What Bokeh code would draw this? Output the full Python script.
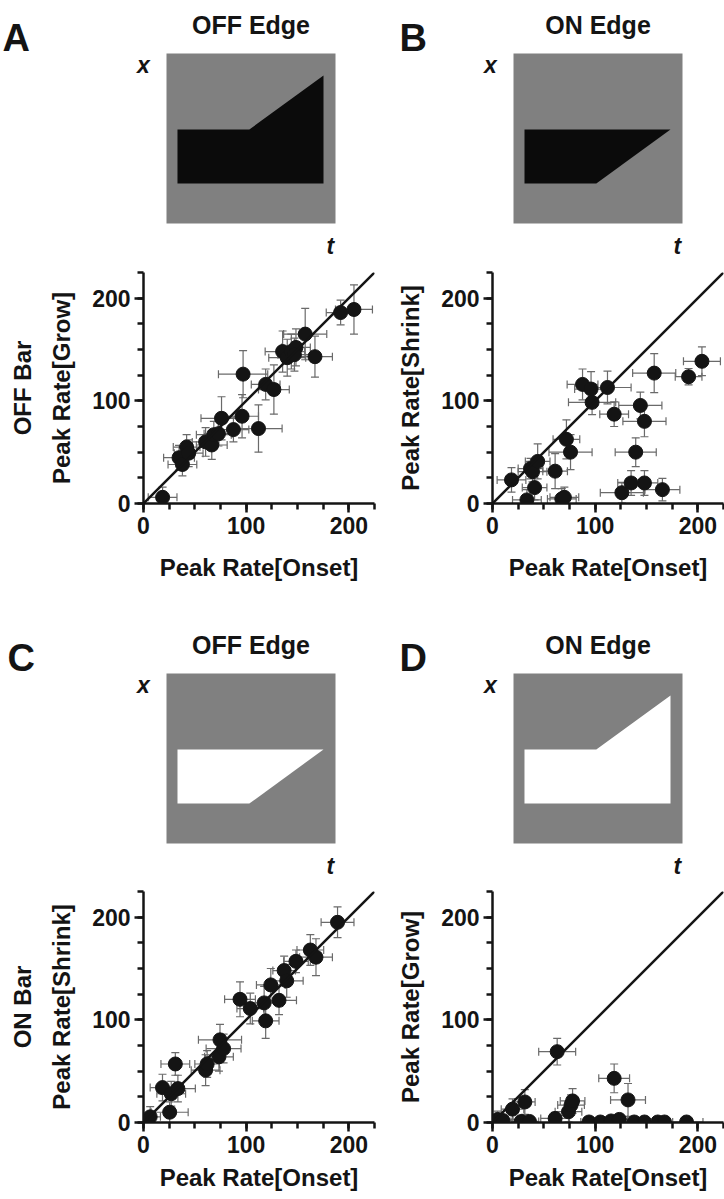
from bokeh.plotting import figure
from bokeh.models import Range1d, SingleIntervalTicker, ColumnDataSource, Whisker, TeeHead, Slope
from bokeh.layouts import column, row
from bokeh.embed import file_html
from bokeh.resources import INLINE
from bokeh.core.properties import value

# ---------------- data ----------------
# Panel A: OFF Bar, Peak Rate[Onset] vs Peak Rate[Grow]
a_x  = [18.6, 34.6, 37.9, 42, 44, 60.5, 66.5, 68.5, 73, 76, 87.6, 96, 97, 112, 119, 127, 135.5, 140, 144, 148.5, 147, 157.5, 167, 192, 205]
a_y  = [6, 44.6, 38, 55, 49, 60, 57, 67, 68, 83, 72, 85, 126, 73, 116, 111, 148, 142, 148, 152, 145, 165, 143, 186, 189]
a_ex = [14, 15, 14, 13, 14, 13, 15, 17, 14, 20, 15, 16, 24, 23, 14, 15, 17, 18, 13, 14, 16, 21, 17, 14, 18]
a_ey = [10, 12, 11, 12, 13, 14, 14, 13, 12, 21, 12, 21, 23, 23, 15, 24, 20, 18, 17, 18, 16, 25, 20, 12, 24]

# Panel B: OFF Bar, Peak Rate[Onset] vs Peak Rate[Shrink]
b_x  = [18.5, 33.5, 37, 39, 41, 44, 61, 67.5, 70, 72, 76, 87.7, 96, 97, 112, 118.5, 126, 135, 139.5, 144, 148, 148, 157.5, 165.5, 191, 204]
b_y  = [23, 3.5, 34, 31, 15.5, 41, 31.5, 4.5, 6, 62.5, 50, 116, 111.5, 98.5, 113, 87, 10.5, 20, 50, 95.5, 20, 80, 127, 13.5, 123.5, 138.5]
b_ex = [14, 14, 12, 14, 12, 12, 12, 14, 14, 13, 21, 15, 16, 23, 23, 14, 21, 13, 20, 21, 13, 21, 21, 17, 13, 18]
b_ey = [12, 10, 10, 10, 12, 17, 17, 10, 10, 19, 17, 15, 17, 12, 16, 12, 10, 12, 14, 13, 12, 15, 19, 11, 8, 14]

# Panel C: ON Bar, Peak Rate[Onset] vs Peak Rate[Shrink]
c_x  = [6.5, 18.5, 25.5, 27, 33.5, 31, 60.5, 62, 73.5, 74.5, 78, 94, 104, 117.5, 119, 124, 132, 137, 139.5, 148.5, 162.5, 168, 189]
c_y  = [5.5, 34, 10, 28, 33, 57, 51, 57, 64, 80.5, 72, 120, 111, 116.5, 99, 134, 119, 148, 138, 157, 168, 161, 195]
c_ex = [10, 12, 18, 14, 17, 14, 14, 12, 14, 21, 17, 15, 13, 18, 13, 14, 17, 11, 16, 12, 13, 16, 16]
c_ey = [10, 13, 10, 12, 13, 11, 15, 13, 14, 15, 14, 17, 15, 16, 17, 16, 14, 14, 16, 11, 15, 18, 15]

# Panel D: ON Bar, Peak Rate[Onset] vs Peak Rate[Grow]
d_x  = [5, 10, 19.5, 31.5, 28, 36, 61, 63, 74, 76.5, 78, 94, 105, 115.5, 118.5, 123.5, 132, 138, 148, 161, 167.5, 189]
d_y  = [3, 2, 13, 20, 1, 1, 4, 69, 10.5, 17, 21, 0.5, 0.5, 1.5, 43, 3, 22, 0.5, 0.5, 0.5, 0.5, 0.5]
d_ex = [10, 10, 11, 10, 10, 9, 14, 18, 13, 13, 12, 8, 8, 9, 15, 8, 17, 8, 8, 8, 8, 16]
d_ey = [8, 5, 10, 12, 3, 3, 6, 13, 10, 10, 12, 2, 2, 2, 14, 4, 16, 2, 2, 2, 2, 2]

# stimulus shapes (t, x) in units of the gray stimulus square
edge_grow_t = [0.065, 0.065, 0.49, 0.929, 0.929]
edge_grow_x = [0.235, 0.553, 0.553, 0.87, 0.235]
edge_shrink_t = [0.065, 0.065, 0.929, 0.49]
edge_shrink_x = [0.235, 0.553, 0.553, 0.235]

FONT = "Liberation Sans"
INK = "#141414"
GRAY = "#808080"
ERR = "#6a6a6a"

SX, SY = 169.0, 170.0  # px per stimulus unit


def stim_fig(fig_x0, fig_y0, w, h, sq_left, sq_bottom, shape_t, shape_x, shape_color,
             title, letter, letter_px):
    xr = Range1d((fig_x0 - sq_left) / SX, (fig_x0 + w - sq_left) / SX)
    yr = Range1d((sq_bottom - (fig_y0 + h)) / SY, (sq_bottom - fig_y0) / SY)
    p = figure(width=w, height=h, x_range=xr, y_range=yr, x_axis_type=None, y_axis_type=None,
               toolbar_location=None, output_backend="svg", min_border=0,
               outline_line_color=None)
    p.grid.visible = False
    p.quad(left=0, right=1, bottom=0, top=1, fill_color=GRAY, line_color=None)
    p.patch(shape_t, shape_x, fill_color=shape_color, line_color=None)
    p.text(x=[0.5], y=[1.165], text=[title], text_font=value(FONT), text_font_style="bold",
           text_font_size="25px", text_align="center", text_baseline="middle", text_color=INK)
    p.text(x=[-0.136], y=[0.93], text=["x"], text_font=value(FONT), text_font_style="bold italic",
           text_font_size="23px", text_align="center", text_baseline="middle", text_color=INK)
    p.text(x=[0.97], y=[-0.13], text=["t"], text_font=value(FONT), text_font_style="bold italic",
           text_font_size="23px", text_align="center", text_baseline="middle", text_color=INK)
    p.text(x=[(letter_px - sq_left) / SX], y=[1.09], text=[letter], text_font=value(FONT),
           text_font_style="bold", text_font_size="38px", text_align="left",
           text_baseline="alphabetic", text_color=INK)
    return p


def scatter_fig(xs, ys, exs, eys, ylabel, left, top, bottom, right, xlab_standoff):
    p = figure(frame_width=231, frame_height=231, x_range=Range1d(0, 225), y_range=Range1d(0, 225),
               min_border_left=left, min_border_right=right, min_border_top=top,
               min_border_bottom=bottom, toolbar_location=None, output_backend="svg",
               outline_line_color=None)
    p.grid.visible = False
    src = ColumnDataSource(dict(
        x=xs, y=ys,
        xl=[max(0, a - e) for a, e in zip(xs, exs)], xu=[a + e for a, e in zip(xs, exs)],
        yl=[max(0, a - e) for a, e in zip(ys, eys)], yu=[a + e for a, e in zip(ys, eys)],
    ))
    for dim, base, lo, up in (("width", "y", "xl", "xu"), ("height", "x", "yl", "yu")):
        p.add_layout(Whisker(source=src, base=base, lower=lo, upper=up, dimension=dim,
                             line_color=ERR, line_width=1.2,
                             upper_head=TeeHead(size=8, line_color=ERR, line_width=1.2),
                             lower_head=TeeHead(size=8, line_color=ERR, line_width=1.2)))
    p.add_layout(Slope(gradient=1, y_intercept=0, line_color=INK, line_width=2.5))
    p.scatter("x", "y", source=src, size=14, fill_color=INK, line_color=INK)
    for ax in (p.xaxis[0], p.yaxis[0]):
        ax.ticker = SingleIntervalTicker(interval=100, num_minor_ticks=4)
        ax.axis_line_width = 2.5
        ax.axis_line_color = INK
        ax.major_tick_line_width = 2.5
        ax.minor_tick_line_width = 2.5
        ax.major_tick_line_color = INK
        ax.minor_tick_line_color = INK
        ax.major_tick_in = 0
        ax.minor_tick_in = 0
        ax.major_tick_out = 9
        ax.minor_tick_out = 6
        ax.major_label_standoff = 4
        ax.major_label_text_font = FONT
        ax.major_label_text_font_style = "bold"
        ax.major_label_text_font_size = "23px"
        ax.major_label_text_color = INK
        ax.axis_label_text_font = FONT
        ax.axis_label_text_font_style = "bold"
        ax.axis_label_text_font_size = "24px"
        ax.axis_label_text_color = INK
        ax.axis_label_text_line_height = 1.45
    p.xaxis.axis_label = "Peak Rate[Onset]"
    p.xaxis.axis_label_standoff = xlab_standoff
    p.yaxis.axis_label = ylabel
    p.yaxis.axis_label_standoff = 14
    return p


# ---------------- layout (page pixels, origin at top-left) ----------------
LW, RW = 380, 344
sA = stim_fig(0, 0, LW, 258, 166, 223, edge_grow_t, edge_grow_x, "#0b0b0b", "OFF Edge", "A", 2)
sB = stim_fig(LW, 0, RW, 258, 513, 223, edge_shrink_t, edge_shrink_x, "#0b0b0b", "ON Edge", "B", 399)
pA = scatter_fig(a_x, a_y, a_ex, a_ey, "OFF Bar\nPeak Rate[Grow]", 143, 14, 87, 6, 17)
pB = scatter_fig(b_x, b_y, b_ex, b_ey, "Peak Rate[Shrink]", 112, 14, 87, 1, 17)
sC = stim_fig(0, 590, LW, 288, 166, 843, edge_shrink_t, edge_shrink_x, "#ffffff", "OFF Edge", "C", 7)
sD = stim_fig(LW, 590, RW, 288, 513, 843, edge_grow_t, edge_grow_x, "#ffffff", "ON Edge", "D", 399)
pC = scatter_fig(c_x, c_y, c_ex, c_ey, "ON Bar\nPeak Rate[Shrink]", 143, 13, 76, 6, 8)
pD = scatter_fig(d_x, d_y, d_ex, d_ey, "Peak Rate[Grow]", 112, 13, 76, 1, 8)

layout = column(row(sA, sB, spacing=0), row(pA, pB, spacing=0),
                row(sC, sD, spacing=0), row(pC, pD, spacing=0), spacing=0)

open("out.html", "w").write(file_html(layout, INLINE))
